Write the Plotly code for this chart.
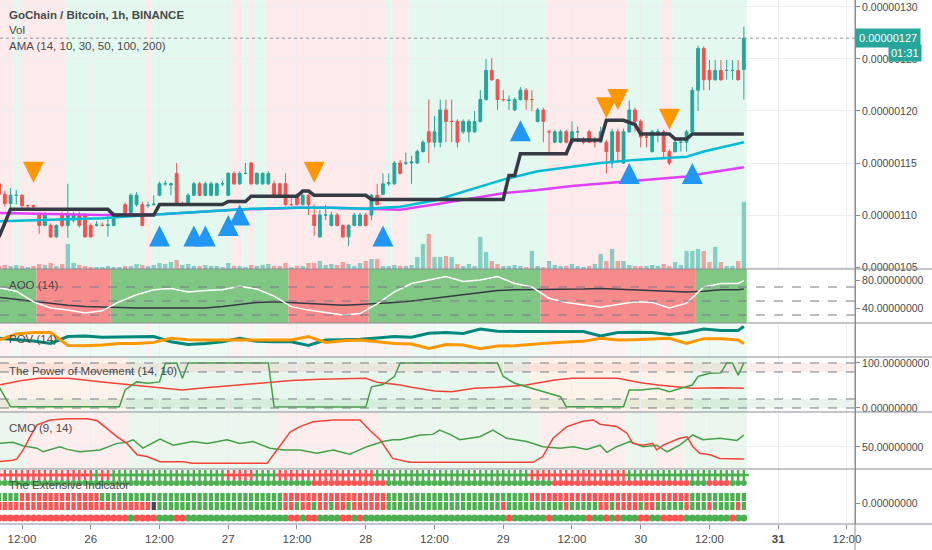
import plotly.graph_objects as go
from plotly.subplots import make_subplots
from datetime import datetime, timedelta

start = datetime(2019, 10, 25, 8, 0)  # first 1h candle

def t(h):
    return start + timedelta(hours=h)

# GO/BTC candles in satoshi (1e-8 BTC), one per hour
opens = [113.0, 112.0, 111.1, 111.9, 111.9, 110.9, 110.9, 110.0, 109.0, 109.0,
         107.9, 110.0, 109.0, 109.5, 110.0, 110.0, 109.0, 109.0, 109.0, 109.0,
         109.0, 110.0, 111.0, 110.0, 111.0, 111.0, 110.9, 111.0, 111.9, 113.0,
         112.9, 114.0, 111.0, 111.1, 111.9, 113.0, 111.9, 111.9, 111.9, 113.0,
         111.9, 114.0, 113.0, 114.0, 115.0, 113.0, 113.0, 113.0, 113.0, 113.0,
         113.0, 111.0, 111.9, 111.0, 111.9, 110.0, 107.9, 110.0, 109.0, 110.0,
         109.0, 107.9, 109.0, 109.0, 110.0, 110.0, 111.9, 112.0, 113.0, 113.0,
         115.0, 115.0, 115.0, 115.0, 116.1, 118.0, 117.0, 117.0, 120.1, 119.0,
         119.0, 118.0, 118.0, 118.0, 119.0, 121.1, 123.9, 123.0, 121.1, 121.0,
         120.1, 121.1, 122.0, 121.1, 119.0, 120.1, 118.0, 117.0, 117.0, 118.0,
         117.0, 118.0, 117.0, 118.0, 117.0, 117.0, 117.0, 115.0, 118.0, 115.0,
         118.0, 120.1, 119.0, 117.5, 116.1, 118.0, 118.0, 116.1, 116.1, 117.0,
         117.0, 118.0, 122.0, 126.0, 123.9, 123.0, 123.9, 123.9, 123.9, 123.9,
         124.0]
closes = [112.0, 111.1, 111.9, 111.9, 110.9, 110.9, 110.8, 109.0, 110.0, 107.9,
          109.0, 109.0, 110.0, 110.0, 109.0, 107.9, 107.9, 109.05, 109.0, 109.05,
          110.0, 110.0, 110.0, 111.9, 111.9, 109.0, 110.95, 111.05, 113.0, 113.0,
          113.0, 111.0, 111.0, 111.9, 113.0, 111.9, 113.0, 113.0, 113.0, 113.0,
          114.0, 113.0, 114.0, 114.0, 113.0, 114.0, 114.0, 114.0, 111.9, 111.9,
          111.0, 111.0, 111.0, 111.9, 111.0, 109.0, 110.0, 110.0, 110.0, 109.0,
          107.9, 109.0, 110.0, 110.0, 109.0, 111.9, 111.0, 113.0, 113.1, 115.0,
          114.0, 115.0, 115.1, 116.1, 117.0, 117.0, 118.0, 120.1, 119.0, 119.0,
          117.0, 119.0, 119.0, 119.0, 121.1, 123.9, 123.0, 121.1, 121.1, 121.05,
          121.1, 122.0, 121.1, 121.1, 120.1, 119.0, 118.0, 118.0, 118.0, 117.0,
          118.0, 118.0, 117.0, 117.0, 117.0, 118.0, 116.1, 118.0, 116.1, 118.0,
          120.1, 119.0, 117.5, 117.5, 118.0, 118.0, 116.1, 115.0, 117.0, 117.0,
          118.0, 122.0, 126.0, 123.0, 123.0, 123.9, 123.0, 123.9, 123.9, 123.0,
          127.0]
highs = [113.3, 112.3, 112.6, 112.4, 112.0, 111.0, 111.0, 110.2, 110.3, 109.2,
         109.1, 110.3, 113.0, 110.3, 110.3, 110.2, 109.2, 109.4, 109.3, 110.0,
         110.3, 110.2, 111.2, 112.1, 112.2, 111.3, 111.3, 111.9, 113.2, 113.3,
         113.1, 115.0, 111.3, 112.1, 113.2, 113.2, 113.2, 113.2, 113.1, 113.3,
         114.1, 114.2, 114.2, 115.0, 115.1, 114.1, 114.1, 114.2, 113.3, 113.1,
         114.0, 111.9, 112.1, 112.0, 112.0, 111.0, 110.5, 111.0, 110.3, 110.2,
         109.1, 109.1, 110.2, 110.2, 110.2, 112.0, 113.0, 114.0, 114.0, 115.2,
         115.3, 116.0, 115.7, 116.3, 117.2, 121.1, 119.5, 121.1, 121.1, 121.1,
         119.2, 119.2, 119.2, 120.0, 122.0, 125.0, 125.1, 123.1, 122.0, 121.5,
         121.3, 122.3, 122.2, 122.0, 120.3, 120.3, 118.2, 118.2, 118.2, 118.2,
         119.0, 118.5, 117.5, 118.2, 117.5, 118.5, 117.2, 118.3, 118.3, 118.3,
         121.0, 120.3, 119.2, 118.0, 118.2, 118.3, 118.2, 116.3, 117.3, 117.5,
         118.2, 122.3, 126.3, 126.2, 124.9, 124.9, 124.9, 124.9, 124.9, 124.9,
         128.1]
lows = [111.8, 110.8, 110.5, 111.0, 110.5, 110.5, 110.4, 108.2, 108.9, 107.8,
        107.8, 108.8, 107.8, 109.3, 108.8, 107.8, 107.8, 108.9, 108.9, 107.9,
        108.9, 109.8, 109.9, 109.8, 110.8, 108.9, 110.7, 110.9, 111.8, 112.8,
        111.9, 110.9, 110.8, 111.0, 111.8, 111.8, 111.8, 111.8, 111.9, 112.8,
        111.8, 112.9, 112.9, 113.9, 112.9, 112.9, 112.9, 112.9, 111.8, 111.8,
        110.9, 110.9, 110.9, 110.9, 110.0, 108.0, 107.8, 109.5, 108.9, 108.9,
        107.8, 107.0, 108.9, 108.9, 108.9, 109.5, 110.9, 111.9, 112.8, 112.9,
        113.9, 114.8, 113.0, 114.9, 116.0, 115.0, 116.5, 116.5, 117.0, 117.0,
        116.5, 117.8, 117.0, 117.9, 118.9, 121.0, 122.9, 120.1, 120.9, 120.1,
        120.0, 121.0, 120.1, 120.0, 118.9, 117.0, 116.0, 116.9, 116.9, 116.9,
        116.9, 117.0, 116.8, 116.9, 116.5, 116.9, 114.0, 114.5, 115.0, 114.9,
        117.9, 118.0, 116.5, 116.5, 116.0, 117.0, 115.5, 114.8, 116.0, 116.1,
        116.1, 117.9, 120.0, 122.0, 122.0, 122.9, 122.9, 123.0, 123.0, 122.9,
        121.1]
volume = [3, 4, 3, 4, 3, 2, 3, 5, 4, 6,
          3, 5, 25, 6, 4, 3, 2, 2, 2, 3,
          2, 2, 3, 3, 5, 4, 3, 4, 6, 5,
          7, 9, 4, 5, 3, 3, 4, 3, 3, 2,
          6, 3, 3, 2, 4, 3, 4, 5, 3, 3,
          6, 2, 3, 3, 6, 6, 8, 4, 5, 4,
          7, 5, 3, 6, 8, 10, 10, 3, 3, 4,
          3, 3, 4, 12, 25, 35, 12, 12, 13, 12,
          5, 3, 5, 3, 32, 17, 8, 5, 3, 3,
          4, 3, 2, 18, 3, 2, 8, 4, 3, 3,
          5, 3, 2, 3, 5, 15, 8, 20, 8, 8,
          4, 3, 3, 3, 4, 3, 5, 3, 7, 4,
          18, 18, 20, 18, 7, 22, 7, 3, 3, 8,
          67]

# AMA lines (hour, satoshi)
ama_black_h = [0, 2, 19, 20, 27, 28, 39, 40, 43, 44, 52, 53, 54, 55, 64, 65, 88, 89, 90, 91,
               99, 100, 105, 106, 109, 111, 112, 117, 118, 120, 121, 130]
ama_black = [107.9, 110.55, 110.55, 110.0, 110.0, 111.0, 111.0, 111.3, 111.3, 111.8, 111.8,
             112.3, 112.3, 111.9, 111.9, 111.5, 111.5, 113.8, 113.8, 115.9, 115.9, 117.2,
             117.2, 119.1, 119.1, 118.7, 117.8, 117.8, 117.3, 117.3, 117.8, 117.8]
ama_cyan_h = [0, 6, 18, 26, 35, 44, 52, 58, 64, 70, 76, 82, 88, 94, 100, 105, 111, 117, 120, 123, 130]
ama_cyan = [109.4, 109.5, 109.7, 110.0, 110.3, 110.6, 110.7, 110.7, 110.6, 110.8, 111.4,
            112.4, 113.4, 114.2, 114.6, 115.0, 115.3, 115.5, 115.6, 116.1, 117.0]
ama_magenta_h = [0, 18, 29, 41, 52, 58, 70, 76, 88, 94, 100, 105, 111, 120, 123, 130]
ama_magenta = [110.2, 110.0, 110.1, 110.5, 110.7, 110.7, 110.5, 111.0, 112.1, 112.4, 112.8,
               113.05, 113.3, 113.7, 114.0, 114.6]

# signal triangles (hour, apex price in satoshi)
sell_h = [6, 55, 106, 108, 117]
sell_p = [113.1, 113.1, 119.3, 120.1, 118.2]
buy_h = [28, 34, 36, 40, 42, 67, 91, 110, 121]
buy_p = [109.0, 109.0, 109.0, 110.0, 111.0, 109.0, 119.1, 115.0, 115.0]

# background state per candle, as runs
main_bg = [('r', 3), ('g', 1), ('r', 8), ('g', 14), ('r', 1), ('g', 14), ('r', 2), ('g', 1),
           ('r', 1), ('g', 2), ('r', 21), ('g', 1), ('r', 3), ('g', 24), ('r', 14), ('g', 6),
           ('r', 2), ('g', 13)]
aoo_bg = [('g', 7), ('r', 13), ('g', 31), ('r', 14), ('g', 30), ('r', 27), ('g', 9)]
pom_bg = [('r', 23), ('g', 70), ('r', 28), ('g', 10)]
cmo_bg = [('g', 5), ('r', 18), ('g', 26), ('r', 18), ('g', 28), ('r', 15), ('g', 5), ('r', 5), ('g', 11)]

# indicator lines, sampled every 3 hours
sample_h = list(range(0, 130, 3)) + [130]
aoo_fast = [69, 64, 49, 40, 37, 33, 36, 49, 59, 66, 68, 63, 65, 66, 71, 67, 57, 42, 37, 34,
            30, 32, 46, 63, 75, 80, 85, 78, 80, 85, 75, 70, 54, 48, 45, 41, 45, 49, 48, 40,
            47, 70, 75, 75, 79]
aoo_slow = [55, 52, 49, 46, 44, 42, 41, 40, 40, 40, 40, 40, 40, 42, 45, 48, 49, 48, 47, 45,
            44, 45, 46, 48, 50, 53, 57, 60, 63, 65, 66, 66, 67, 67, 67, 68, 67, 66, 65, 64,
            63, 64, 66, 66, 67]
pov_up = [55, 51, 47, 40, 60, 62, 58, 59, 60, 60, 45, 37, 40, 45, 55, 46, 45, 45, 34, 50,
          51, 52, 56, 60, 58, 70, 72, 69, 82, 76, 75, 75, 75, 74, 75, 62, 72, 73, 72, 66,
          72, 82, 78, 78, 90]
pov_down = [50, 68, 72, 72, 34, 33, 35, 40, 40, 43, 55, 51, 50, 50, 50, 50, 50, 50, 60, 43,
            48, 50, 45, 40, 38, 25, 37, 35, 24, 32, 33, 38, 41, 44, 46, 55, 50, 51, 53, 55,
            40, 54, 54, 50, 39]

# The Power of Movement
pom_green_h = [0, 1, 2, 21, 22, 24, 26, 28, 29, 31, 32, 33, 47, 48, 64, 65, 67, 69, 70, 87,
               88, 90, 93, 96, 98, 99, 109, 110, 112, 115, 117, 119, 121, 122, 124, 126, 127,
               128, 129, 130]
pom_green = [47, 25, 3, 3, 40, 58, 55, 58, 99, 100, 66, 100, 100, 3, 2, 47, 52, 70, 100, 100,
             70, 55, 44, 33, 25, 3, 3, 40, 40, 44, 36, 44, 51, 70, 77, 78, 100, 100, 73, 100]
pom_red_h = [0, 4, 7, 12, 18, 23, 28, 32, 35, 40, 46, 51, 56, 64, 66, 70, 72, 76, 79, 83, 87,
             92, 97, 100, 108, 112, 115, 119, 121, 126, 130]
pom_red = [51, 61, 66, 66, 58, 51, 44, 40, 44, 49, 55, 61, 64, 66, 57, 51, 46, 38, 36, 44, 46,
           51, 62, 66, 66, 56, 51, 47, 44, 45, 44]

# CMO
cmo_red_h = [0, 2.4, 3.1, 4.2, 5.4, 6.6, 8.9, 11.9, 15.3, 17.1, 18.8, 20.6, 22.3, 24.1, 25.8,
             28.1, 32.1, 33.8, 46.8, 48.5, 50.8, 52.5, 54.8, 58.3, 63, 64.7, 66.5, 68.7, 70,
             71.7, 93.2, 94.9, 96.7, 99.1, 101.9, 103.7, 104.9, 107.8, 109.6, 110.6, 112.4,
             114.1, 114.8, 115.9, 118.8, 120.1, 121.1, 122.3, 124.1, 125.8, 130]
cmo_red = [25.5, 28, 30, 45, 67, 87, 95, 97, 97, 94, 81, 67, 56, 37, 34, 25.5, 25.5, 23, 23,
           45, 75, 84, 92, 95, 95, 78, 62, 31, 28, 24.5, 24.5, 34, 64.5, 84, 93, 95, 88, 84,
           73, 56, 53, 56, 45, 53, 64.5, 67, 50.5, 39.5, 37, 31, 30]
cmo_green_h = [0, 2.4, 4.2, 6.6, 7.7, 8.9, 10.6, 11.9, 14.1, 17.6, 20.6, 22.3, 23.4, 25.1,
               28.1, 30.4, 33.8, 36.3, 39.8, 42, 44.3, 47.3, 49.6, 52.5, 55.5, 58.3, 61.2,
               64.2, 67, 68.7, 70, 73.5, 75.7, 76.9, 78.7, 80.4, 83.9, 86.2, 88.6, 92.1, 94.9,
               97.9, 100.2, 102.6, 104.9, 106.1, 107.8, 110.1, 112.4, 114.8, 116.6, 118.8,
               121.1, 122.8, 125.8, 128.8, 130]
cmo_green = [56, 58, 52, 48, 42, 46, 50.5, 46, 42, 45, 56, 58, 62, 48, 63, 53, 59, 56, 62, 56,
             59, 48, 45, 45, 39.5, 45, 38, 50.5, 59, 62, 62, 70, 71, 78, 71, 62, 67, 78, 64.5,
             59, 50.5, 48, 50.5, 46, 53, 41, 50.5, 59, 50.5, 53, 42, 53, 70, 62, 64.5, 61, 70]

# The Extensive Indicator rows (runs of g/r per candle)
ext_cross = [('r', 17), ('g', 1), ('r', 2), ('g', 20), ('r', 5), ('g', 4), ('r', 17), ('g', 27),
             ('r', 17), ('g', 21)]
ext_dots = [('g', 55), ('r', 13), ('g', 29), ('r', 24), ('g', 3), ('r', 4), ('g', 3)]
ext_bar_top = [('g', 4), ('r', 14), ('g', 32), ('r', 18), ('g', 25), ('r', 28), ('g', 10)]
ext_bar_bot = [('r', 27), ('d', 1), ('g', 22), ('r', 2), ('g', 1), ('r', 2), ('g', 1), ('r', 2),
               ('g', 1), ('r', 2), ('g', 1), ('r', 6), ('g', 20), ('r', 1), ('g', 4), ('g', 6),
               ('r', 1), ('g', 5), ('r', 2), ('g', 1), ('r', 4), ('g', 1), ('r', 2), ('g', 5),
               ('r', 1), ('g', 3), ('r', 1), ('g', 4), ('r', 1), ('g', 1)]
ext_circles = [('r', 23), ('g', 1), ('r', 4), ('g', 3), ('r', 2), ('g', 18), ('r', 2), ('g', 1),
               ('r', 2), ('g', 4), ('r', 2), ('g', 1), ('r', 1), ('g', 25), ('r', 1), ('g', 6),
               ('r', 1), ('g', 6), ('r', 1), ('g', 2), ('r', 1), ('g', 1), ('r', 1), ('g', 3),
               ('r', 2), ('g', 2), ('r', 4), ('g', 8), ('r', 1), ('g', 2)]

tick_text = ['12:00', '26', '12:00', '27', '12:00', '28', '12:00', '29', '12:00', '30',
             '12:00', '<b>31</b>', '12:00']
price_ticks = [105, 110, 115, 120, 125, 130]

GREEN = '#26a69a'
RED = '#ef5350'
TXT = '#4a4a4a'
GRID = '#eceef2'
SEP = '#8a8d96'
FONT = 'Liberation Sans'
ext_col = {'g': '#4caf50', 'r': '#ff5252', 'd': '#434651'}

def expand(runs):
    out = []
    for c, n in runs:
        out += [c] * n
    return out

n = len(opens)
times = [t(i) for i in range(n)]
sat = 1e-8

# pane heights in px: main, AOO, POV, PoM, CMO, Extensive
fig = make_subplots(rows=6, cols=1, shared_xaxes=True, vertical_spacing=0,
                    row_heights=[269, 54, 34, 55, 57, 55],
                    specs=[[{"secondary_y": True}], [{}], [{}], [{}], [{}], [{}]])

def bands(runs, row, pal):
    i = 0
    for c, k in runs:
        fig.add_vrect(x0=t(i - 0.5), x1=t(i + k - 0.5), fillcolor=pal[c], opacity=1,
                      line_width=0, layer='below', row=row, col=1, exclude_empty_subplots=False)
        i += k

def hline(y, row, **kw):
    fig.add_hline(y=y, row=row, col=1, exclude_empty_subplots=False, **kw)

bands(main_bg, 1, {'r': '#fdeaea', 'g': '#e3f8ee'})
bands(aoo_bg, 2, {'r': '#f78b8b', 'g': '#81c784'})
bands(main_bg, 3, {'r': '#fdf2f2', 'g': '#eefaf3'})
bands(pom_bg, 4, {'r': '#fdf3ea', 'g': '#e8f7ee'})
bands(cmo_bg, 5, {'r': '#fdeeee', 'g': '#ebf7ec'})

# main pane
vol_col = ['rgba(38,166,154,0.5)' if c >= o else 'rgba(239,83,80,0.5)' for o, c in zip(opens, closes)]
fig.add_trace(go.Bar(x=times, y=volume, marker=dict(color=vol_col, line_width=0),
                     width=3600000 * 0.75), row=1, col=1, secondary_y=True)
fig.add_trace(go.Candlestick(x=times,
                             open=[v * sat for v in opens], high=[v * sat for v in highs],
                             low=[v * sat for v in lows], close=[v * sat for v in closes],
                             increasing=dict(line=dict(color=GREEN, width=1), fillcolor=GREEN),
                             decreasing=dict(line=dict(color=RED, width=1), fillcolor=RED),
                             whiskerwidth=0),
              row=1, col=1)
fig.add_trace(go.Scatter(x=[t(h) for h in ama_magenta_h], y=[v * sat for v in ama_magenta],
                         mode='lines', line=dict(color='#e040fb', width=2.5)), row=1, col=1)
fig.add_trace(go.Scatter(x=[t(h) for h in ama_cyan_h], y=[v * sat for v in ama_cyan],
                         mode='lines', line=dict(color='#00bcd4', width=2.5)), row=1, col=1)
fig.add_trace(go.Scatter(x=[t(h) for h in ama_black_h], y=[v * sat for v in ama_black],
                         mode='lines', line=dict(color='#363a45', width=3.5)), row=1, col=1)
fig.add_trace(go.Scatter(x=[t(h) for h in sell_h], y=[v * sat for v in sell_p], mode='markers',
                         marker=dict(symbol='arrow-down', size=21, color='#ff9800', line_width=0)),
              row=1, col=1)
fig.add_trace(go.Scatter(x=[t(h) for h in buy_h], y=[v * sat for v in buy_p], mode='markers',
                         marker=dict(symbol='arrow-up', size=21, color='#2196f3', line_width=0)),
              row=1, col=1)
hline(127 * sat, 1, line=dict(color='#9598a1', width=1, dash='dot'))

# AOO
for lv in [70, 50, 30]:
    hline(lv, 2, line=dict(color='#787b86', width=1, dash='dash'))
fig.add_trace(go.Scatter(x=[t(h) for h in sample_h], y=aoo_slow, mode='lines',
                         line=dict(color='#363a45', width=1.5)), row=2, col=1)
fig.add_trace(go.Scatter(x=[t(h) for h in sample_h], y=aoo_fast, mode='lines',
                         line=dict(color='#ffffff', width=1.5)), row=2, col=1)

# POV
fig.add_trace(go.Scatter(x=[t(h) for h in sample_h], y=pov_up, mode='lines',
                         line=dict(color='#00897b', width=3)), row=3, col=1)
fig.add_trace(go.Scatter(x=[t(h) for h in sample_h], y=pov_down, mode='lines',
                         line=dict(color='#ff9800', width=3)), row=3, col=1)

# Power of Movement
fig.add_hrect(y0=80, y1=100, row=4, col=1, fillcolor='rgba(255,82,82,0.1)', line_width=0,
              layer='below', exclude_empty_subplots=False)
fig.add_hrect(y0=0, y1=20, row=4, col=1, fillcolor='rgba(76,175,80,0.12)', line_width=0,
              layer='below', exclude_empty_subplots=False)
for lv in [100, 80, 20, 0]:
    hline(lv, 4, line=dict(color='#787b86', width=1, dash='dash'))
fig.add_trace(go.Scatter(x=[t(h) for h in pom_red_h], y=pom_red, mode='lines',
                         line=dict(color='#f44336', width=1.5)), row=4, col=1)
fig.add_trace(go.Scatter(x=[t(h) for h in pom_green_h], y=pom_green, mode='lines',
                         line=dict(color='#43a047', width=1.5)), row=4, col=1)

# CMO
fig.add_trace(go.Scatter(x=[t(h) for h in cmo_green_h], y=cmo_green, mode='lines',
                         line=dict(color='#43a047', width=1.5)), row=5, col=1)
fig.add_trace(go.Scatter(x=[t(h) for h in cmo_red_h], y=cmo_red, mode='lines',
                         line=dict(color='#f44336', width=1.5)), row=5, col=1)

# Extensive Indicator (y in px from pane bottom)
fig.add_trace(go.Scatter(x=times, y=[49] * n, mode='markers',
                         marker=dict(symbol='cross-thin', size=7,
                                     line=dict(width=2.5, color=[ext_col[c] for c in expand(ext_cross)]))),
              row=6, col=1)
fig.add_trace(go.Scatter(x=times, y=[41] * n, mode='markers',
                         marker=dict(symbol='circle', size=6, line_width=0,
                                     color=[ext_col[c] for c in expand(ext_dots)])), row=6, col=1)
fig.add_trace(go.Bar(x=times, y=[8] * n, base=23, width=3600000 * 0.75,
                     marker=dict(color=[ext_col[c] for c in expand(ext_bar_top)], line_width=0)),
              row=6, col=1)
fig.add_trace(go.Bar(x=times, y=[8] * n, base=14, width=3600000 * 0.75,
                     marker=dict(color=[ext_col[c] for c in expand(ext_bar_bot)], line_width=0)),
              row=6, col=1)
fig.add_trace(go.Scatter(x=times, y=[6] * n, mode='markers',
                         marker=dict(symbol='circle', size=7, line_width=0,
                                     color=[ext_col[c] for c in expand(ext_circles)])), row=6, col=1)

# axes
fig.update_xaxes(type='date', domain=[0, 1], range=[t(0.16), t(149.4)],
                 tickvals=[t(4 + 12 * k) for k in range(13)],
                 ticktext=tick_text, showgrid=True, gridcolor=GRID, showticklabels=False,
                 rangeslider_visible=False, zeroline=False, showline=False, automargin=False)
fig.update_xaxes(row=2, col=1, showgrid=False)
fig.update_xaxes(row=6, col=1, showticklabels=True, ticks='outside', ticklen=4, tickcolor=SEP,
                 tickfont=dict(size=11.5, color=TXT))
axis_common = dict(side='right', showline=True, linecolor=SEP, ticks='outside', ticklen=4,
                   tickcolor=SEP, tickfont=dict(size=10.5, color=TXT), zeroline=False,
                   automargin=False)
fig.update_yaxes(row=1, col=1, secondary_y=False, range=[104.81 * sat, 130.67 * sat],
                 tickvals=[v * sat for v in price_ticks], tickformat='.8f', showgrid=True,
                 gridcolor=GRID, **axis_common)
fig.update_yaxes(row=1, col=1, secondary_y=True, range=[0, 268], visible=False, automargin=False)
fig.update_yaxes(row=2, col=1, range=[18.6, 95.7], tickvals=[80, 40], tickformat='.8f',
                 showgrid=False, **axis_common)
fig.update_yaxes(row=3, col=1, range=[0, 100], showticklabels=False, showgrid=False,
                 side='right', showline=True, linecolor=SEP, zeroline=False, ticks='',
                 automargin=False)
fig.update_yaxes(row=4, col=1, range=[-8.9, 113.3], tickvals=[100, 0], tickformat='.8f',
                 showgrid=False, **axis_common)
fig.update_yaxes(row=5, col=1, range=[13.3, 108.3], tickvals=[50], tickformat='.8f',
                 showgrid=True, gridcolor=GRID, **axis_common)
fig.update_yaxes(row=6, col=1, range=[0, 55], tickvals=[21], ticktext=['0.00000000'],
                 showgrid=False, **axis_common)

# pane separators and right axis line (plot area is 524 px tall)
for py in [269, 323, 357, 412, 469, 524]:
    fig.add_shape(type='line', xref='paper', yref='paper', x0=0, x1=932 / 855,
                  y0=1 - py / 524, y1=1 - py / 524, line=dict(color=SEP, width=1))
fig.add_shape(type='line', xref='paper', yref='paper', x0=1, x1=1, y0=1, y1=-26 / 524,
              line=dict(color=SEP, width=1))

labels = [('<b>GoChain / Bitcoin, 1h, BINANCE</b>', 15), ('Vol', 30),
          ('AMA (14, 10, 30, 50, 100, 200)', 46), ('AOO (14)', 285), ('POV (14)', 339),
          ('The Power of Movement (14, 10)', 371), ('CMO (9, 14)', 428),
          ('The Extensive Indicator', 485)]
for txt, py in labels:
    fig.add_annotation(text=txt, xref='paper', yref='paper', x=7 / 855, y=1 - py / 524,
                       xanchor='left', yanchor='middle', showarrow=False,
                       font=dict(size=11.5, color=TXT))

fig.add_annotation(text='0.00000127', xref='paper', yref='y', x=1, y=127 * sat, xanchor='left',
                   yanchor='middle', showarrow=False, bgcolor=GREEN, borderpad=3,
                   font=dict(size=11, color='white'))
fig.add_annotation(text='01:31', xref='paper', yref='paper', x=922 / 855, y=1 - 53 / 524,
                   xanchor='right', yanchor='middle', showarrow=False, bgcolor=GREEN, borderpad=2,
                   font=dict(size=11, color='white'))

fig.update_layout(width=932, height=550, margin=dict(l=0, r=77, t=0, b=26),
                  showlegend=False, barmode='overlay', plot_bgcolor='white',
                  paper_bgcolor='white', font=dict(family=FONT, size=12, color=TXT))

# the page's default body margin would shift the 932x550 figure off the window
fig.write_html("out.html", config={'displayModeBar': False},
               post_script="document.body.style.margin='0px';")
